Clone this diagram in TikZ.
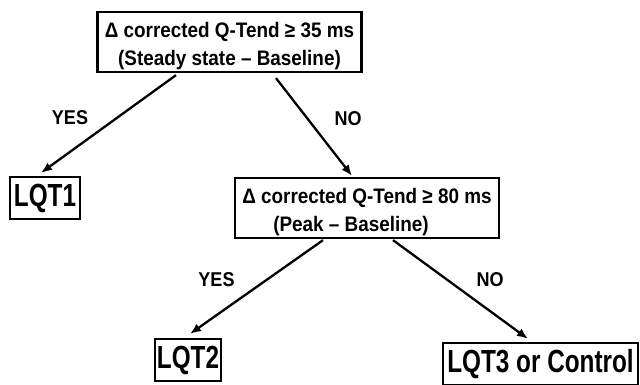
\documentclass[tikz,border=0pt]{standalone}
\usepackage{fontspec}
\setmainfont{Liberation Sans}
\newfontfamily\lqtfont{Liberation Sans}[FakeStretch=0.76]
\newfontfamily\boxfont{Liberation Sans}[FakeStretch=0.9,Ligatures=TeX]
\usetikzlibrary{arrows.meta}

\begin{document}
\begin{tikzpicture}[x=1pt,y=-1pt,
  test/.style={draw, line width=2.3pt, inner sep=0pt,
    minimum width=264pt, minimum height=60pt,
    font=\fontsize{21}{28}\boxfont\bfseries},
  result/.style={draw, line width=2.3pt, inner sep=0pt,
    minimum height=42pt,
    font=\fontsize{32}{32}\lqtfont\bfseries},
  answer/.style={inner sep=0pt, font=\fontsize{20}{20}\boxfont\bfseries},
  branch/.style={line width=2.3pt, -{Latex[length=11pt,width=9pt]}}]

\useasboundingbox (0,0) rectangle (640,385);
\fill[white] (0,0) rectangle (640,385);

% decision boxes
\node[test] (q1) at (229.5,42)
  {\raisebox{-4pt}[\height][\depth]{\begin{tabular}{@{}c@{}}
    Δ corrected Q-Tend ≥ 35 ms\\
    (Steady state – Baseline)\end{tabular}}};
\node[test] (q2) at (367,208)
  {\raisebox{-4pt}[\height][\depth]{\begin{tabular}{@{}c@{}}
    Δ corrected Q-Tend ≥ 80 ms\\
    (Peak – Baseline)\hspace*{32pt}\end{tabular}}};

% outcomes
\node[result, minimum width=70pt]  (lqt1) at (45,198)    {LQT1};
\node[result, minimum width=66pt]  (lqt2) at (188,360)   {LQT2};
\node[result, minimum width=195pt] (lqt3) at (540.5,364) {LQT3 or Control};

% branches
\draw[branch] ([xshift=-53.5pt,yshift=-2pt]q1.south) -- ([xshift=-4pt,yshift=3pt]lqt1.north);
\draw[branch] ([xshift=46.5pt,yshift=-5pt]q1.south) -- ([xshift=-15pt,yshift=1pt]q2.north);
\draw[branch] ([xshift=-44pt,yshift=-1pt]q2.south) -- ([xshift=2pt,yshift=4pt]lqt2.north);
\draw[branch] ([xshift=26pt,yshift=-1pt]q2.south) -- ([xshift=-12.5pt,yshift=3pt]lqt3.north);

% branch labels
\node[answer] (y1) at (70,117.5) {YES};
\node[answer] (n1) at (348,119)  {NO};
\node[answer] (y2) at (216.5,280) {YES};
\node[answer] (n2) at (490,280)  {NO};
\end{tikzpicture}
\end{document}
